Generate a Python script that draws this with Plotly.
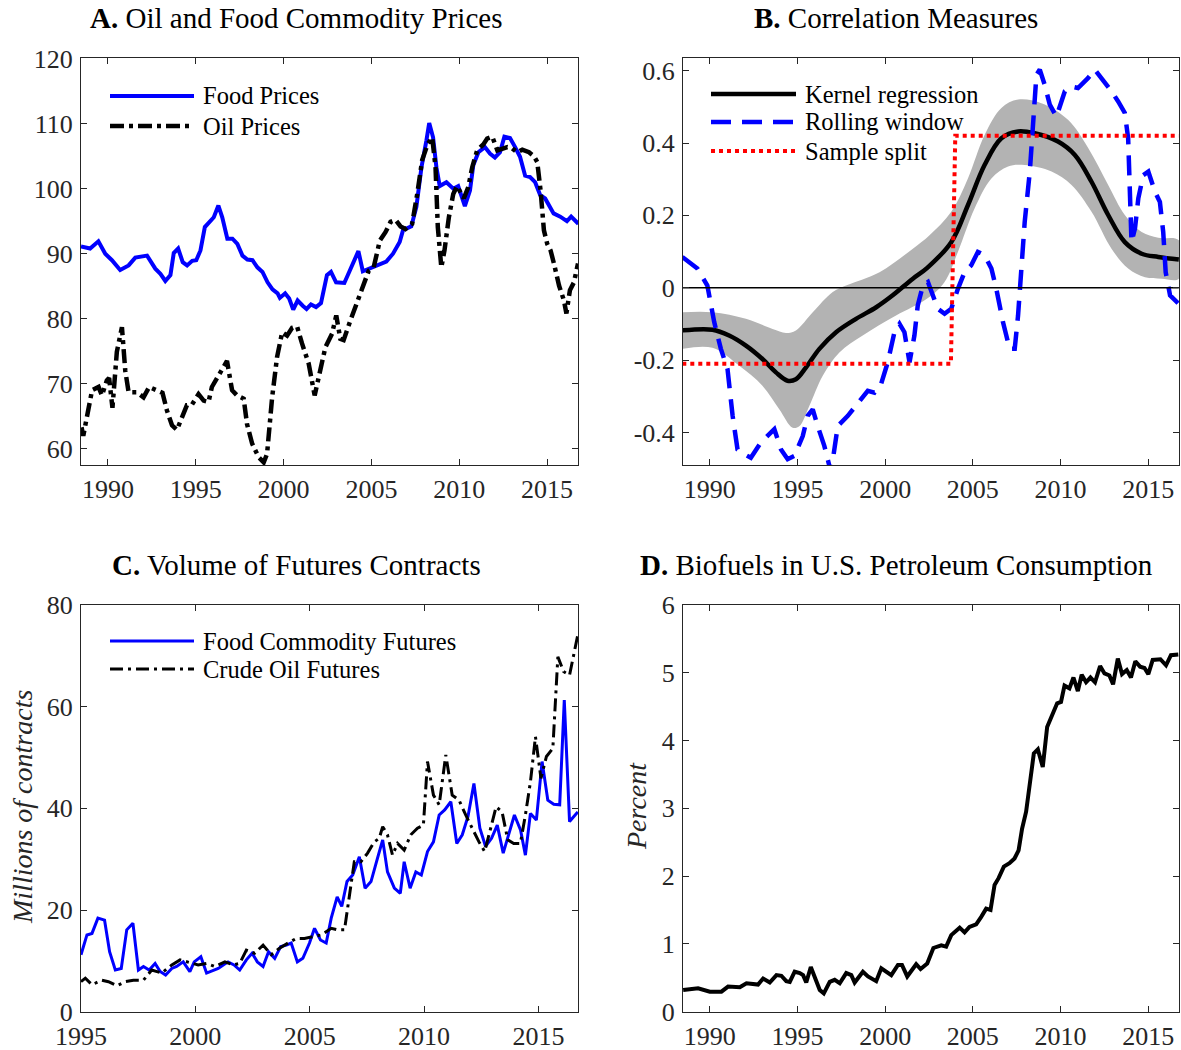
import plotly.graph_objects as go

W, H = 1181, 1050
FONT = "Liberation Serif"
INK = "#262626"
BLUE = "#0000ff"
RED = "#ff0000"
BAND = "#b3b3b3"

# --- Panel A: oil and food commodity prices (index) ---
food_t = [1988.47, 1988.99, 1989.46, 1989.85, 1990.23, 1990.7, 1991.18, 1991.56, 1992.23, 1992.7,
          1992.99, 1993.27, 1993.56, 1993.75, 1994.0, 1994.26, 1994.51, 1994.8, 1995.03, 1995.27,
          1995.52, 1995.85, 1996.03, 1996.29, 1996.51, 1996.8, 1997.09, 1997.37, 1997.66, 1997.94,
          1998.23, 1998.51, 1998.8, 1999.09, 1999.37, 1999.66, 1999.79, 2000.09, 2000.32, 2000.55,
          2000.8, 2001.09, 2001.31, 2001.56, 2001.85, 2002.13, 2002.47, 2002.7, 2002.99, 2003.46,
          2003.85, 2004.26, 2004.51, 2004.89, 2005.27, 2005.85, 2006.23, 2006.61, 2006.8, 2007.27,
          2007.56, 2007.85, 2008.13, 2008.29, 2008.51, 2008.7, 2008.89, 2009.27, 2009.66, 2009.94,
          2010.32, 2010.61, 2010.8, 2011.09, 2011.46, 2011.75, 2012.03, 2012.32, 2012.57, 2012.89,
          2013.18, 2013.46, 2013.75, 2014.03, 2014.32, 2014.61, 2014.89, 2015.18, 2015.37, 2015.75,
          2016.13, 2016.37, 2016.6, 2016.78]
food_price = [91.1, 90.8, 91.9, 90.0, 89.0, 87.5, 88.2, 89.4, 89.7, 87.7,
              86.9, 85.8, 86.7, 90.1, 90.8, 88.7, 88.2, 88.9, 89.0, 90.5,
              94.1, 95.2, 95.6, 97.4, 95.6, 92.3, 92.3, 91.5, 89.7, 89.1,
              89.0, 87.9, 87.2, 85.6, 84.5, 83.9, 83.2, 83.9, 83.1, 81.4,
              82.8, 82.0, 81.5, 82.2, 81.8, 82.4, 86.7, 87.2, 85.6, 85.5,
              87.9, 90.4, 87.3, 87.7, 88.2, 88.8, 90.0, 91.8, 93.6, 94.2,
              97.2, 103.3, 107.4, 110.1, 107.9, 103.3, 100.4, 101.0, 100.0, 100.4,
              97.3, 99.7, 103.6, 105.6, 106.4, 105.4, 104.8, 105.6, 108.0, 107.8,
              106.4, 104.9, 102.0, 101.8, 101.0, 99.0, 98.5, 97.2, 96.2, 95.7,
              95.0, 95.7, 95.1, 94.6]
oil_t = [1988.5, 1988.6, 1989.1, 1989.47, 1989.66, 1989.94, 1990.07, 1990.26, 1990.51, 1990.8,
         1990.99, 1991.18, 1991.65, 1992.03, 1992.35, 1992.79, 1993.11, 1993.36, 1993.65, 1993.93,
         1994.22, 1994.5, 1994.79, 1995.16, 1995.45, 1995.73, 1995.92, 1996.21, 1996.5, 1996.78,
         1997.07, 1997.35, 1997.73, 1997.92, 1998.21, 1998.58, 1998.87, 1999.06, 1999.35, 1999.63,
         1999.92, 2000.2, 2000.49, 2000.77, 2001.05, 2001.43, 2001.77, 2002.1, 2002.38, 2002.76,
         2003.0, 2003.23, 2003.42, 2003.8, 2004.18, 2004.56, 2004.85, 2005.13, 2005.48, 2005.8,
         2006.09, 2006.37, 2006.66, 2006.94, 2007.32, 2007.61, 2007.89, 2008.21, 2008.46, 2008.65,
         2008.78, 2008.98, 2009.16, 2009.41, 2009.66, 2009.88, 2010.11, 2010.26, 2010.51, 2010.74,
         2011.02, 2011.37, 2011.59, 2011.88, 2012.17, 2012.45, 2012.74, 2013.02, 2013.3, 2013.59,
         2013.97, 2014.25, 2014.44, 2014.63, 2014.82, 2015.01, 2015.2, 2015.39, 2015.68, 2015.96,
         2016.1, 2016.3, 2016.53, 2016.76]
oil_price = [63.3, 62.0, 69.0, 69.5, 68.2, 70.5, 70.9, 66.3, 74.9, 78.7,
             72.0, 68.7, 68.7, 67.9, 69.5, 69.0, 68.6, 65.9, 63.6, 62.9,
             64.9, 66.7, 66.8, 68.4, 67.4, 67.2, 69.5, 70.8, 72.0, 73.5,
             69.0, 68.2, 67.7, 63.8, 60.8, 58.7, 57.9, 59.2, 67.9, 74.1,
             77.9, 77.4, 78.6, 78.8, 76.2, 73.1, 68.2, 72.6, 75.6, 77.7,
             80.5, 76.9, 76.7, 79.7, 82.5, 85.6, 87.4, 87.9, 92.0, 93.3,
             94.9, 95.2, 94.2, 93.8, 94.6, 99.2, 104.4, 106.9, 107.9, 103.3,
             94.1, 87.9, 90.5, 95.6, 99.2, 100.4, 99.2, 98.5, 100.2, 103.3,
             105.9, 106.8, 107.7, 108.0, 105.9, 106.2, 106.4, 106.2, 105.6, 106.0,
             105.6, 105.0, 104.1, 99.7, 93.6, 91.5, 90.5, 88.5, 85.1, 82.8,
             80.8, 84.4, 85.6, 88.5]

# --- Panel B: correlation measures ---
kern_t = [1988.43, 1990.15, 1991.1, 1992.06, 1993.0, 1993.77, 1994.43, 1994.91, 1995.49, 1996.25,
          1997.2, 1998.34, 1999.49, 2000.43, 2001.58, 2002.4, 2003.77, 2004.72, 2005.67, 2006.63,
          2007.58, 2008.53, 2009.86, 2010.82, 2011.77, 2012.72, 2013.67, 2014.63, 2015.58, 2016.75]
kern_corr = [-0.118, -0.116, -0.132, -0.160, -0.197, -0.234, -0.257, -0.253, -0.220, -0.169,
             -0.123, -0.086, -0.054, -0.021, 0.025, 0.055, 0.126, 0.228, 0.339, 0.413,
             0.432, 0.427, 0.404, 0.367, 0.293, 0.201, 0.126, 0.094, 0.085, 0.078]
band_hi_t = [1988.43, 1990.15, 1992.06, 1993.58, 1994.34, 1994.91, 1995.87, 1997.01, 1997.77, 1999.68,
             2001.58, 2002.53, 2003.77, 2004.72, 2005.67, 2006.63, 2007.58, 2008.91, 2010.43, 2011.58,
             2012.72, 2013.67, 2014.63, 2015.58, 2016.75]
band_hi = [-0.068, -0.068, -0.086, -0.114, -0.125, -0.118, -0.068, -0.012, 0.006, 0.043,
           0.108, 0.145, 0.210, 0.302, 0.422, 0.497, 0.520, 0.510, 0.464, 0.386,
           0.284, 0.201, 0.154, 0.138, 0.131]
band_lo_t = [1988.43, 1990.15, 1991.68, 1993.0, 1993.96, 1994.72, 1995.1, 1995.68, 1996.44, 1997.39,
             1998.72, 2000.62, 2002.4, 2003.39, 2004.15, 2005.1, 2006.06, 2007.01, 2007.96, 2009.49,
             2010.63, 2011.77, 2012.91, 2013.86, 2014.82, 2015.77, 2016.75]
band_lo = [-0.169, -0.166, -0.216, -0.271, -0.336, -0.387, -0.383, -0.326, -0.243, -0.179,
           -0.132, -0.077, -0.030, 0.016, 0.099, 0.219, 0.302, 0.335, 0.339, 0.321,
           0.284, 0.210, 0.108, 0.053, 0.029, 0.025, 0.025]
roll_t = [1988.43, 1989.29, 1989.86, 1990.25, 1990.63, 1991.01, 1991.3, 1991.58, 1991.96, 1992.34,
          1992.91, 1993.39, 1993.68, 1994.06, 1994.44, 1994.82, 1995.1, 1995.3, 1995.58, 1995.87,
          1996.15, 1996.53, 1996.91, 1997.3, 1997.87, 1998.44, 1999.01, 1999.39, 1999.77, 2000.15,
          2000.53, 2000.82, 2001.1, 2001.39, 2001.67, 2001.86, 2002.15, 2002.44, 2002.7, 2003.0,
          2003.39, 2003.77, 2004.15, 2004.53, 2004.91, 2005.29, 2005.67, 2006.06, 2006.34, 2006.72,
          2007.1, 2007.39, 2007.58, 2007.77, 2007.96, 2008.25, 2008.44, 2008.63, 2008.82, 2009.1,
          2009.39, 2009.77, 2010.25, 2010.63, 2011.0, 2011.58, 2011.96, 2012.34, 2012.91, 2013.29,
          2013.67, 2013.86, 2013.96, 2014.05, 2014.25, 2014.44, 2014.72, 2015.01, 2015.39, 2015.67,
          2015.86, 2016.0, 2016.25, 2016.75]
roll_corr = [0.085, 0.053, 0.006, -0.095, -0.169, -0.225, -0.354, -0.447, -0.460, -0.470,
             -0.428, -0.405, -0.391, -0.447, -0.474, -0.465, -0.437, -0.410, -0.354, -0.336,
             -0.382, -0.437, -0.510, -0.382, -0.354, -0.317, -0.285, -0.290, -0.266, -0.206,
             -0.123, -0.100, -0.123, -0.206, -0.132, -0.049, 0.006, 0.016, -0.021, -0.058,
             -0.072, -0.058, -0.003, 0.043, 0.062, 0.099, 0.090, 0.053, -0.003, -0.095,
             -0.169, -0.169, -0.077, 0.043, 0.182, 0.321, 0.459, 0.589, 0.603, 0.561,
             0.506, 0.473, 0.543, 0.556, 0.552, 0.580, 0.603, 0.580, 0.543, 0.515,
             0.483, 0.413, 0.275, 0.126, 0.164, 0.247, 0.311, 0.321, 0.265, 0.237,
             0.154, 0.043, -0.021, -0.045]
split_t = [1988.43, 2003.75, 2004.0, 2016.75]
split_corr = [-0.21, -0.21, 0.42, 0.42]

# --- Panel C: futures volume (millions of contracts) ---
fut_food_t = [1995.0, 1995.26, 1995.48, 1995.74, 1996.03, 1996.25, 1996.5, 1996.76, 1997.0, 1997.27,
              1997.51, 1997.73, 1997.98, 1998.24, 1998.46, 1998.7, 1998.97, 1999.18, 1999.47, 1999.76,
              1999.95, 2000.24, 2000.49, 2000.78, 2001.0, 2001.43, 2001.69, 2001.94, 2002.23, 2002.48,
              2002.71, 2002.96, 2003.2, 2003.47, 2003.73, 2003.98, 2004.19, 2004.46, 2004.7, 2004.99,
              2005.21, 2005.47, 2005.72, 2005.94, 2006.2, 2006.4, 2006.63, 2006.88, 2007.17, 2007.42,
              2007.68, 2007.94, 2008.19, 2008.4, 2008.7, 2008.96, 2009.13, 2009.39, 2009.64, 2009.88,
              2010.15, 2010.41, 2010.66, 2010.9, 2011.17, 2011.43, 2011.67, 2011.92, 2012.18, 2012.44,
              2012.69, 2012.95, 2013.2, 2013.46, 2013.71, 2013.95, 2014.22, 2014.43, 2014.65, 2014.91,
              2015.16, 2015.41, 2015.67, 2015.93, 2016.13, 2016.36, 2016.72]
fut_food = [11.2, 15.1, 15.4, 18.4, 18.0, 11.8, 8.2, 8.5, 16.1, 17.4,
            8.2, 8.9, 8.2, 9.5, 7.9, 7.2, 8.5, 8.9, 9.8, 7.9,
            9.8, 10.8, 7.6, 8.2, 8.5, 9.8, 9.2, 8.2, 10.2, 11.5,
            9.8, 8.9, 11.8, 10.5, 12.8, 13.1, 13.5, 9.8, 10.5, 13.5,
            16.4, 14.1, 13.5, 18.4, 22.6, 20.7, 25.6, 26.9, 30.5, 24.3,
            25.6, 29.8, 33.8, 27.5, 24.3, 23.3, 29.5, 24.3, 27.5, 26.9,
            31.5, 33.4, 38.7, 39.7, 41.3, 33.1, 34.8, 38.4, 44.9, 36.1,
            32.5, 34.1, 36.7, 31.2, 34.8, 38.7, 35.7, 30.8, 39.0, 37.7,
            49.2, 41.6, 40.8, 40.7, 61.3, 37.4, 39.3]
fut_oil_t = [1995.0, 1995.19, 1995.48, 1995.91, 1996.2, 1996.57, 1996.93, 1997.29, 1997.73, 1998.09,
             1998.53, 1998.97, 1999.33, 1999.69, 2000.12, 2000.49, 2000.85, 2001.29, 2001.65, 2001.94,
             2002.23, 2002.59, 2002.96, 2003.32, 2003.68, 2004.05, 2004.41, 2004.77, 2005.14, 2005.5,
             2005.94, 2006.23, 2006.52, 2006.73, 2006.95, 2007.24, 2007.53, 2007.82, 2008.04, 2008.19,
             2008.4, 2008.62, 2008.84, 2009.13, 2009.42, 2009.71, 2009.97, 2010.15, 2010.41, 2010.66,
             2010.95, 2011.23, 2011.53, 2011.82, 2012.11, 2012.4, 2012.65, 2012.91, 2013.15, 2013.41,
             2013.66, 2013.92, 2014.21, 2014.43, 2014.65, 2014.87, 2015.11, 2015.35, 2015.63, 2015.85,
             2016.1, 2016.36, 2016.72]
fut_oil = [5.9, 6.6, 5.3, 6.2, 5.9, 5.1, 5.9, 6.2, 6.2, 8.2,
           7.6, 9.2, 10.2, 9.8, 9.2, 9.5, 8.9, 9.8, 9.2, 9.5,
           12.1, 11.5, 13.1, 11.2, 12.5, 13.5, 14.4, 14.4, 14.8, 15.1,
           16.4, 16.1, 16.1, 23.0, 29.5, 29.5, 31.2, 33.4, 34.1, 36.4,
           34.8, 30.8, 33.1, 31.8, 34.8, 36.1, 36.7, 49.2, 42.6, 40.7,
           50.5, 42.6, 41.6, 38.7, 36.1, 33.4, 31.5, 36.1, 40.3, 39.3,
           33.8, 33.1, 33.1, 38.7, 45.2, 54.1, 45.9, 50.2, 51.8, 69.8,
           66.9, 66.2, 74.1]

# --- Panel D: biofuels share of U.S. petroleum consumption (%) ---
bio_t = [1988.48, 1989.33, 1990.0, 1990.66, 1991.04, 1991.71, 1992.09, 1992.75, 1993.04, 1993.42,
         1993.8, 1994.08, 1994.36, 1994.56, 1994.84, 1995.13, 1995.32, 1995.5, 1995.76, 1995.98,
         1996.27, 1996.5, 1996.84, 1997.12, 1997.41, 1997.78, 1998.07, 1998.26, 1998.73, 1999.02,
         1999.49, 1999.78, 2000.35, 2000.73, 2000.96, 2001.26, 2001.77, 2002.02, 2002.4, 2002.75,
         2003.2, 2003.48, 2003.77, 2004.25, 2004.53, 2004.81, 2005.19, 2005.48, 2005.76, 2006.01,
         2006.24, 2006.47, 2006.77, 2007.09, 2007.38, 2007.61, 2007.81, 2008.04, 2008.29, 2008.48,
         2008.71, 2008.99, 2009.24, 2009.5, 2009.81, 2010.03, 2010.23, 2010.51, 2010.74, 2010.99,
         2011.21, 2011.46, 2011.71, 2011.97, 2012.26, 2012.51, 2012.79, 2013.0, 2013.27, 2013.51,
         2013.78, 2014.02, 2014.27, 2014.54, 2014.79, 2015.01, 2015.26, 2015.7, 2016.02, 2016.3,
         2016.72]
bio_pct = [0.32, 0.345, 0.295, 0.295, 0.37, 0.36, 0.42, 0.40, 0.49, 0.43,
           0.54, 0.53, 0.45, 0.44, 0.59, 0.57, 0.54, 0.43, 0.66, 0.52,
           0.32, 0.27, 0.44, 0.47, 0.42, 0.57, 0.54, 0.43, 0.59, 0.52,
           0.45, 0.64, 0.54, 0.69, 0.69, 0.52, 0.70, 0.63, 0.71, 0.94,
           0.98, 0.96, 1.13, 1.24, 1.17, 1.25, 1.29, 1.40, 1.52, 1.50,
           1.87, 1.97, 2.14, 2.19, 2.26, 2.38, 2.70, 2.95, 3.44, 3.81,
           3.87, 3.61, 4.20, 4.35, 4.55, 4.57, 4.81, 4.77, 4.93, 4.73,
           4.97, 4.86, 4.93, 4.86, 5.10, 4.99, 4.96, 4.83, 5.21, 4.98,
           5.04, 4.93, 5.17, 5.09, 5.07, 4.98, 5.19, 5.20, 5.11, 5.26,
           5.27]

year_ticks = [1990, 1995, 2000, 2005, 2010, 2015]
year_ticks_c = [1995, 2000, 2005, 2010, 2015]
price_ticks = [60, 70, 80, 90, 100, 110, 120]
corr_ticks = [-0.4, -0.2, 0, 0.2, 0.4, 0.6]
volume_ticks = [0, 20, 40, 60, 80]
pct_ticks = [0, 1, 2, 3, 4, 5, 6]

titles = [("A.", "Oil and Food Commodity Prices"), ("B.", "Correlation Measures"),
          ("C.", "Volume of Futures Contracts"), ("D.", "Biofuels in U.S. Petroleum Consumption")]

OILDASH = "14px,5px,4px,5px"
ROLLDASH = "20px,11px"
SPLITDOT = "4px,4px"
FUTDASH = "13px,5px,3px,5px"


def px(x):
    return x / W


def py(y):
    return 1 - y / H


# plot-area pixel boxes (left, right) / (top, bottom)
COLS = [(81, 578), (683, 1179)]
ROWS = [(58, 465), (605, 1011.7)]

fig = go.Figure()

# A
fig.add_trace(go.Scatter(x=food_t, y=food_price, mode="lines", line=dict(color=BLUE, width=4),
                         xaxis="x", yaxis="y"))
fig.add_trace(go.Scatter(x=oil_t, y=oil_price, mode="lines",
                         line=dict(color="black", width=4.5, dash=OILDASH), xaxis="x", yaxis="y"))
# B
fig.add_trace(go.Scatter(x=band_hi_t + band_lo_t[::-1], y=band_hi + band_lo[::-1], mode="lines",
                         fill="toself", fillcolor=BAND, line=dict(width=0, shape="spline"),
                         xaxis="x2", yaxis="y2"))
fig.add_trace(go.Scatter(x=kern_t, y=kern_corr, mode="lines",
                         line=dict(color="black", width=4.5, shape="spline"), xaxis="x2", yaxis="y2"))
fig.add_trace(go.Scatter(x=roll_t, y=roll_corr, mode="lines",
                         line=dict(color=BLUE, width=4.5, dash=ROLLDASH), xaxis="x2", yaxis="y2"))
fig.add_trace(go.Scatter(x=split_t, y=split_corr, mode="lines",
                         line=dict(color=RED, width=4, dash=SPLITDOT), xaxis="x2", yaxis="y2"))
fig.add_trace(go.Scatter(x=[kern_t[0], kern_t[-1]], y=[0, 0], mode="lines",
                         line=dict(color="black", width=1.5), xaxis="x2", yaxis="y2"))
# C
fig.add_trace(go.Scatter(x=fut_food_t, y=fut_food, mode="lines", line=dict(color=BLUE, width=3),
                         xaxis="x3", yaxis="y3"))
fig.add_trace(go.Scatter(x=fut_oil_t, y=fut_oil, mode="lines",
                         line=dict(color="black", width=3, dash=FUTDASH), xaxis="x3", yaxis="y3"))
# D
fig.add_trace(go.Scatter(x=bio_t, y=bio_pct, mode="lines", line=dict(color="black", width=4),
                         xaxis="x4", yaxis="y4"))
fig.update_traces(showlegend=False, hoverinfo="skip")


def axis(domain, rng, ticks, text=None, **kw):
    d = dict(domain=domain, range=rng, tickvals=ticks, showline=True, linecolor=INK, linewidth=1,
             mirror="ticks", ticks="inside", ticklen=6, tickcolor=INK, tickwidth=1,
             showgrid=False, zeroline=False, fixedrange=True, automargin=False,
             tickfont=dict(family=FONT, size=26, color=INK))
    if text is not None:
        d["ticktext"] = text
        d["tickmode"] = "array"
    d.update(kw)
    return d


xd = [[px(a), px(b)] for a, b in COLS]
yd = [[py(b), py(a)] for a, b in ROWS]
yr = (1988.47, 2016.76)
XSO, YSO = 1, 2
fig.update_layout(
    width=W, height=H, margin=dict(l=0, r=0, t=0, b=0, pad=0),
    paper_bgcolor="white", plot_bgcolor="white",
    xaxis=axis(xd[0], yr, year_ticks, anchor="y", ticklabelstandoff=XSO),
    yaxis=axis(yd[0], [57.5, 120.1], price_ticks, anchor="x", ticklabelstandoff=YSO),
    xaxis2=axis(xd[1], yr, year_ticks, anchor="y2", ticklabelstandoff=XSO),
    yaxis2=axis(yd[0], [-0.49, 0.635], corr_ticks, [f"{v:g}" for v in corr_ticks],
                anchor="x2", ticklabelstandoff=YSO),
    xaxis3=axis(xd[0], [1995, 2016.73], year_ticks_c, anchor="y3", ticklabelstandoff=XSO),
    yaxis3=axis(yd[1], [0, 80], volume_ticks, anchor="x3", ticklabelstandoff=YSO),
    xaxis4=axis(xd[1], yr, year_ticks, anchor="y4", ticklabelstandoff=XSO),
    yaxis4=axis(yd[1], [0, 6], pct_ticks, anchor="x4", ticklabelstandoff=YSO),
)

# panel titles
title_pos = [(296, 18), (896, 18), (296, 565), (896, 565)]
for (tag, name), (tx, ty) in zip(titles, title_pos):
    fig.add_annotation(x=px(tx), y=py(ty), xref="paper", yref="paper", showarrow=False,
                       xanchor="center", yanchor="middle", text=f"<b>{tag}</b> {name}",
                       font=dict(family=FONT, size=29, color="black"))

# y-axis labels
for label, (lx, ly) in [("Millions of contracts", (22, 807)), ("Percent", (636, 806))]:
    fig.add_annotation(x=px(lx), y=py(ly), xref="paper", yref="paper", showarrow=False,
                       textangle=-90, xanchor="center", yanchor="middle",
                       text=f"<i>{label}</i>", font=dict(family=FONT, size=28, color=INK))

# legends (MATLAB-style long line samples)
legends = [
    (110, 194, 201, [(96, "Food Prices", dict(color=BLUE, width=4)),
                     (126, "Oil Prices", dict(color="black", width=4.5, dash=OILDASH))]),
    (711, 796, 803, [(94, "Kernel regression", dict(color="black", width=4.5)),
                     (122, "Rolling window", dict(color=BLUE, width=4.5, dash=ROLLDASH)),
                     (151, "Sample split", dict(color=RED, width=4, dash=SPLITDOT))]),
    (110, 194, 201, [(641, "Food Commodity Futures", dict(color=BLUE, width=3)),
                     (669, "Crude Oil Futures", dict(color="black", width=3, dash=FUTDASH))]),
]
for x0, x1, tx, items in legends:
    for ly, label, ln in items:
        fig.add_shape(type="line", xref="paper", yref="paper", x0=px(x0), x1=px(x1),
                      y0=py(ly), y1=py(ly), line=ln)
        fig.add_annotation(x=px(tx), y=py(ly), xref="paper", yref="paper", showarrow=False,
                           xanchor="left", yanchor="middle", text=label,
                           font=dict(family=FONT, size=24.5, color="black"))

fig.write_html("out.html", config={"displayModeBar": False},
               post_script="document.body.style.margin='0';")
